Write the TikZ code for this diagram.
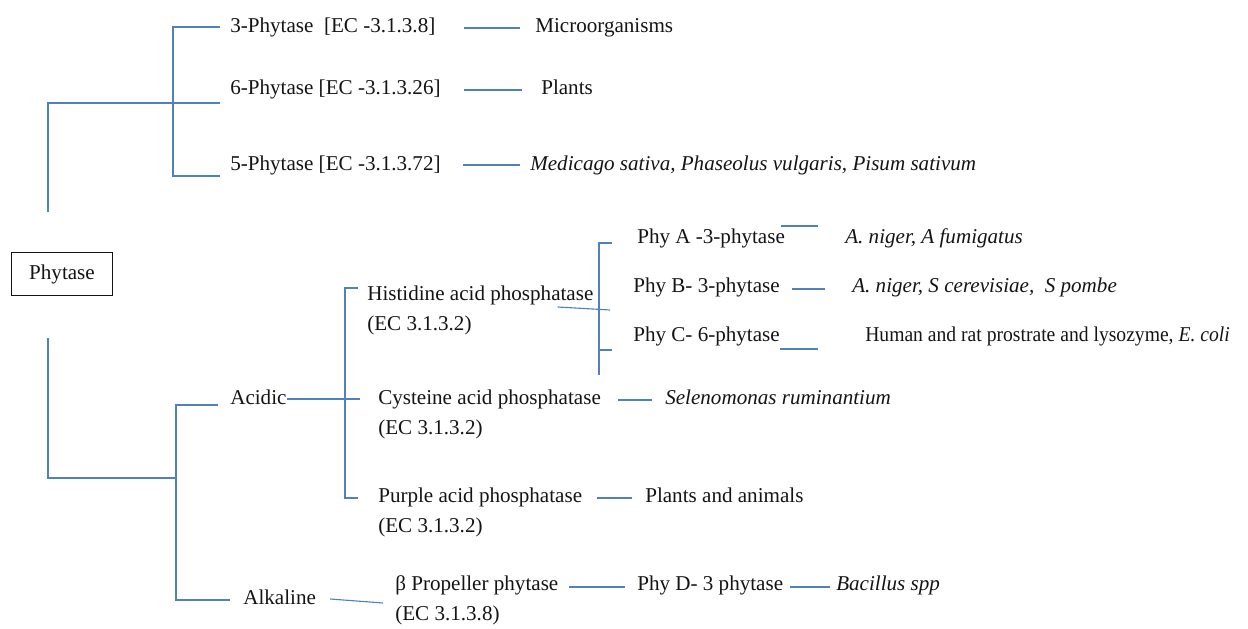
\documentclass[tikz,border=0pt]{standalone}
\usepackage{fontspec}
\setmainfont{Liberation Serif}
\usepackage{tikz}
\usetikzlibrary{
    calc,
    positioning
}
\definecolor{ink}{RGB}{20,20,20}
\definecolor{linkblue}{RGB}{79,129,189}
\tikzset{
    line cap=butt,
    entry/.style={
        anchor=west,
        inner sep=0pt,
        text height=11pt,
        text depth=3.5pt,
        text=ink,
        font=\fontsize{15}{21}\selectfont
    },
    species/.style={
        entry,
        font=\fontsize{15}{21}\selectfont\itshape
    },
    ecline/.style={
        entry,
        anchor=north west
    },
    rootbox/.style={
        rectangle,
        draw=ink,
        line width=0.8pt,
        minimum width=2.525cm,
        minimum height=1.075cm,
        text=ink,
        font=\fontsize{15}{21}\selectfont
    },
    link/.style={
        -,
        draw=linkblue,
        line width=0.8pt
    }
}

\begin{document}
\begin{tikzpicture}[x=0.025cm, y=-0.025cm]
\useasboundingbox (0,0) rectangle (1248,629);

% Root
\node[rootbox] (root) at (62, 274) {Phytase};
\coordinate (roottop) at (48, 103);
\coordinate (rootbot) at (48, 478);

% Upper branch: by carbon position
\node[entry] (p3) at (230, 27) {3-Phytase~ [EC -3.1.3.8]};
\node[entry] (micro) at (535, 27) {Microorganisms};
\node[entry] (p6) at (230, 89) {6-Phytase [EC -3.1.3.26]};
\node[entry] (plants) at (541, 89) {Plants};
\node[entry] (p5) at (230, 165) {5-Phytase [EC -3.1.3.72]};
\node[species] (legumes) at (530, 165) {Medicago sativa, Phaseolus vulgaris, Pisum sativum};

\draw[link] ([yshift=1cm]root.north -| roottop) -- (roottop) -- ($(roottop -| p6.west)+(-10,0)$);
\draw[link] ($(p3.west)+(-10,0)$) -- ++(-47,0) |- ($(p5.west)+(-10,11)$);
\draw[link] ($(p3.east)+(28,1)$) -- ($(micro.west)+(-15,1)$);
\draw[link] ($(p6.east)+(23,1)$) -- ($(plants.west)+(-19,1)$);
\draw[link] ($(p5.east)+(22,0)$) -- ($(legumes.west)+(-10,0)$);

% Lower branch: by pH optimum
\node[entry] (acidic) at (230, 399) {Acidic};
\node[entry] (alkaline) at (243, 599) {Alkaline};
\coordinate (lowspine) at (176, 478);

\draw[link] ([yshift=-1.05cm]root.south -| rootbot) -- (rootbot) -- (lowspine);
\draw[link] ($(acidic.west)+(-12,6)$) -| (lowspine) |- ($(alkaline.west)+(-13,1)$);

% Acid phosphatases
\node[entry] (hist) at (367, 295) {Histidine acid phosphatase};
\node[ecline, below=0.22cm of hist.south west, anchor=north west] (histec) {(EC 3.1.3.2)};
\node[entry] (cyst) at (378, 399) {Cysteine acid phosphatase};
\node[ecline, below=0.22cm of cyst.south west, anchor=north west] (cystec) {(EC 3.1.3.2)};
\node[entry] (purple) at (378, 497) {Purple acid phosphatase};
\node[ecline, below=0.22cm of purple.south west, anchor=north west] (purpleec) {(EC 3.1.3.2)};
\node[species] (selen) at (665, 399) {Selenomonas ruminantium};
\node[entry] (plantan) at (645, 497) {Plants and animals};

\draw[link] (acidic.east) -- ($(cyst.west)+(-18,0)$);
\draw[link] ($(hist.west)+(-9,-7)$) -- ++(-13,0) |- ($(purple.west)+(-20,1)$);
\draw[link] ($(cyst.east)+(17,1)$) -- ($(selen.west)+(-13,1)$);
\draw[link] ($(purple.east)+(15,1)$) -- ($(plantan.west)+(-13,1)$);

% Histidine acid phosphatase subtypes
\node[entry] (phya) at (637, 238) {Phy A -3-phytase};
\node[species] (phyaorg) at (845, 238) {A. niger, A fumigatus};
\node[entry] (phyb) at (633, 287) {Phy B- 3-phytase};
\node[species] (phyborg) at (852, 287) {A. niger, S cerevisiae,~ S pombe};
\node[entry] (phyc) at (633, 336) {Phy C- 6-phytase};
\node[entry] (phycorg) at (865, 336) {\scalebox{0.93}[1]{Human and rat prostrate and lysozyme, \textit{E. coli}}};

\draw[link] ($(phya.west)+(-25,5)$) -- ++(-13,0) -- ++(0,132);
\draw[link] ($(phyc.west)+(-21,14)$) -- ++(-13,0);
\draw[link] ($(hist.east)+(-36,12)$) -- ($(phyb.west)+(-23,23)$);
\draw[link] ($(phya.east)+(-4,-12)$) -- ($(phyaorg.west)+(-27,-12)$);
\draw[link] ($(phyb.east)+(12,2)$) -- ($(phyborg.west)+(-27,2)$);
\draw[link] ($(phyc.east)+(0,13)$) -- ($(phycorg.west)+(-47,13)$);

% Alkaline
\node[entry] (bprop) at (395, 585) {β Propeller phytase};
\node[ecline, below=0.22cm of bprop.south west, anchor=north west] (bpropec) {(EC 3.1.3.8)};
\node[entry] (phyd) at (637, 585) {Phy D- 3 phytase};
\node[species] (bacil) at (836, 585) {Bacillus spp};

\draw[link] ($(alkaline.east)+(14,0)$) -- ($(bprop.west)+(-12,18)$);
\draw[link] ($(bprop.east)+(10,2)$) -- ($(phyd.west)+(-12,2)$);
\draw[link] ($(phyd.east)+(7,2)$) -- ($(bacil.west)+(-6,2)$);

\end{tikzpicture}
\end{document}
